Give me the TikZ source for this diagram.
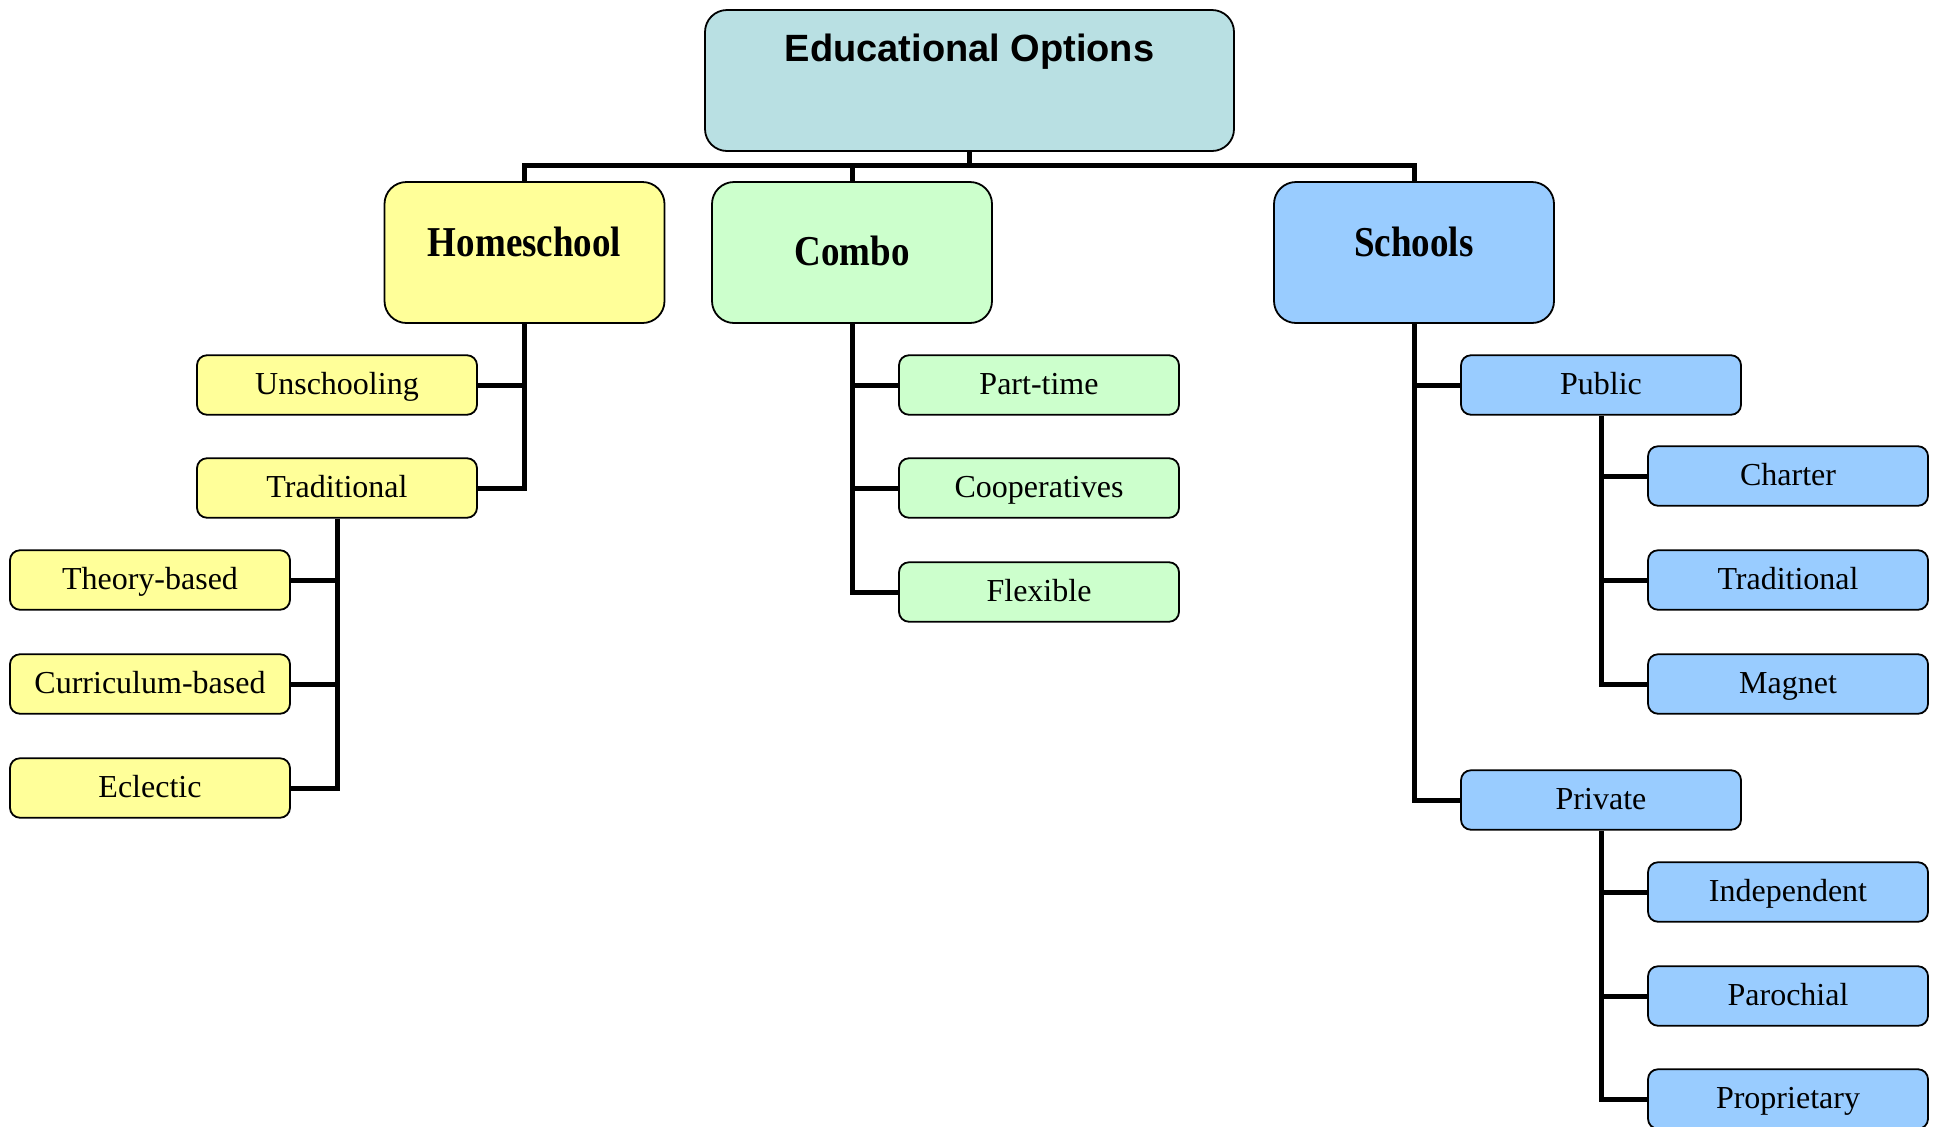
\documentclass[tikz,border=0pt]{standalone}
\usepackage{fontspec}
\setmainfont{Liberation Serif}
\newfontfamily\arialf{Liberation Sans}
\definecolor{rootfill}{RGB}{185,224,227}
\definecolor{yel}{RGB}{255,255,153}
\definecolor{grn}{RGB}{204,255,204}
\definecolor{blu}{RGB}{153,204,255}
\tikzset{
  x=0.5pt, y=-0.5pt,
  box/.style={draw=black, line width=0.9pt, rounded corners=5pt, inner sep=0pt,
    minimum width=140pt, minimum height=29.75pt,
    font=\fontsize{16pt}{19pt}\selectfont, text height=11.5pt, text depth=2.5pt},
  lvlone/.style={draw=black, line width=0.9pt, rounded corners=11pt, inner sep=0pt,
    minimum width=140pt, minimum height=70.5pt,
    font=\fontsize{18.5pt}{22pt}\selectfont\bfseries, text height=13pt, text depth=9.5pt},
  rootbox/.style={draw=black, line width=0.9pt, rounded corners=11pt, inner sep=0pt,
    minimum width=264.5pt, minimum height=70.5pt, fill=rootfill,
    font=\arialf\fontsize{19pt}{23pt}\selectfont\bfseries, text height=14pt, text depth=33pt},
  conn/.style={draw=black, line width=2.5pt},
}
\newcommand{\tall}[1]{\scalebox{1}[1.15]{#1}}
\begin{document}
\begin{tikzpicture}
\useasboundingbox (0,0) rectangle (1942,1126);
% root and level one
\node[rootbox] (root) at (969.5,80.5) {Educational Options};
\node[lvlone, fill=yel] (hs) at (524.5,252.5) {\tall{Homeschool}};
\node[lvlone, fill=grn, text depth=0pt] (cb) at (852,252.5) {\tall{Combo}};
\node[lvlone, fill=blu] (sch) at (1414,252.5) {\tall{Schools}};
% homeschool branch
\node[box, fill=yel] (uns) at (337,385) {Unschooling};
\node[box, fill=yel] (trad) at (337,488) {Traditional};
\node[box, fill=yel] (theo) at (150,580) {Theory-based};
\node[box, fill=yel] (curr) at (150,684) {Curriculum-based};
\node[box, fill=yel] (ecl) at (150,788) {Eclectic};
% combo branch
\node[box, fill=grn] (part) at (1039,385) {Part-time};
\node[box, fill=grn] (coop) at (1039,488) {Cooperatives};
\node[box, fill=grn] (flex) at (1039,592) {Flexible};
% schools branch
\node[box, fill=blu] (pub) at (1601,385) {Public};
\node[box, fill=blu] (priv) at (1601,800) {Private};
\node[box, fill=blu] (chart) at (1788,476) {Charter};
\node[box, fill=blu] (ptrad) at (1788,580) {Traditional};
\node[box, fill=blu] (magn) at (1788,684) {Magnet};
\node[box, fill=blu] (indep) at (1788,892) {Independent};
\node[box, fill=blu] (paro) at (1788,996) {Parochial};
\node[box, fill=blu] (prop) at (1788,1099) {Proprietary};
% connectors
\coordinate (bus) at (969.5,165);
\draw[conn] (root.south) -- (bus);
\draw[conn] (hs.north) |- (bus) -| (sch.north);
\draw[conn] (cb.north) -- (cb.north |- bus);
\draw[conn] (hs.south) |- (trad.east);
\draw[conn] (hs.south |- uns.east) -- (uns.east);
\draw[conn] (trad.south) |- (ecl.east);
\draw[conn] (trad.south |- theo.east) -- (theo.east);
\draw[conn] (trad.south |- curr.east) -- (curr.east);
\draw[conn] (cb.south) |- (flex.west);
\draw[conn] (cb.south |- part.west) -- (part.west);
\draw[conn] (cb.south |- coop.west) -- (coop.west);
\draw[conn] (sch.south) |- (priv.west);
\draw[conn] (sch.south |- pub.west) -- (pub.west);
\draw[conn] (pub.south) |- (magn.west);
\draw[conn] (pub.south |- chart.west) -- (chart.west);
\draw[conn] (pub.south |- ptrad.west) -- (ptrad.west);
\draw[conn] (priv.south) |- (prop.west);
\draw[conn] (priv.south |- indep.west) -- (indep.west);
\draw[conn] (priv.south |- paro.west) -- (paro.west);
\end{tikzpicture}
\end{document}
